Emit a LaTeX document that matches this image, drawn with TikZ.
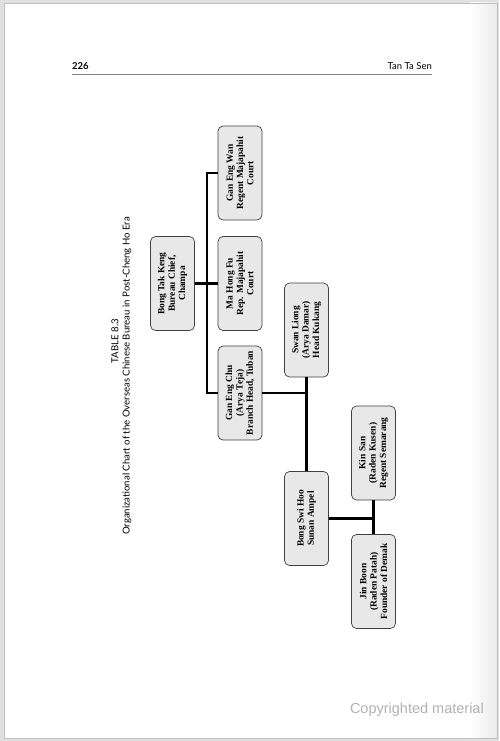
\documentclass[tikz,border=0pt]{standalone}
\usepackage{fontspec}
\setmainfont{Liberation Serif}
\newfontfamily\headfont{Lato}
\newfontfamily\wmfont{Liberation Sans}
\begin{document}
\begin{tikzpicture}[x=1pt,y=-1pt,
  box/.style={draw=black!75, fill=black!9, rounded corners=5pt, line width=0.7pt,
    rotate=90, minimum width=94pt, minimum height=44pt, align=center, inner sep=1pt,
    font=\bfseries\fontsize{9.4}{10.3}\selectfont},
  link/.style={line width=2.2pt, black},
  headtxt/.style={inner sep=0pt, font=\headfont\fontsize{9.5}{10}\selectfont},
  titletxt/.style={rotate=90, inner sep=0pt, font=\headfont\fontsize{9.6}{11}\selectfont}]
\useasboundingbox (0,0) rectangle (499,741);
\fill[black!12] (0,0) rectangle (499,741);
\fill[white] (4,3) rectangle (497,738);
\shade[left color=white,right color=black!8] (470,3) rectangle (497,738);
\draw[black!25, line width=0.8pt] (4,3) rectangle (497,738);

% header
\node[headtxt, anchor=base west] (pg) at (72,70) {\bfseries 226};
\node[headtxt, anchor=base east] (au) at (432,70) {Tan Ta Sen};
\draw[black!50, line width=0.6pt] (72,74) -- (432,74);

% title
\node[titletxt] (tno) at (115,341) {TABLE 8.3};
\node[titletxt] (ttl) at (127,376) {Organizational Chart of the Overseas Chinese Bureau in Post-Cheng Ho Era};

% boxes
\node[box] (b1) at (172.5,283.5) {Bong Tak Keng\\Bureau Chief,\\Champa};
\node[box] (b2) at (240,173) {Gan Eng Wan\\Regent Majapahit\\Court};
\node[box] (b3) at (240,283.5) {Ma Hong Fu\\Rep. Majapahit\\Court};
\node[box] (b4) at (240,393) {Gan Eng Chu\\(Arya Teja)\\Branch Head, Tuban};
\node[box] (b5) at (306.5,330) {Swan Liong\\(Arya Damar)\\Head Kukang};
\node[box] (b6) at (306.5,518.5) {Bong Swi Hoo\\Sunan Ampel};
\node[box] (b7) at (373.5,453) {Kin San\\(Raden Kusen)\\Regent Semarang};
\node[box] (b8) at (373.5,581.5) {Jin Boon\\(Raden Patah)\\Founder of Demak};

% connectors
\coordinate (t1) at (207,173);
\coordinate (t2) at (207,393);
\draw[link] (t1) -- (b2.north);
\draw[link, line cap=rect] (t1) -- (t2);
\draw[link] (t2) -- (b4.north);
\draw[link] (b1.south) -- (b3.north);
\draw[link] (b4.south) -- (b4.south -| b5.center);
\draw[link] (b5.west) -- (b6.east);
\draw[link] (b6.south) -- (b6.south -| b7.center);
\draw[link] (b7.west) -- (b8.east);

% watermark
\node[anchor=base east, inner sep=0pt, text=black!30, font=\wmfont\fontsize{14.5}{16}\selectfont] (wm) at (484,713) {Copyrighted material};
\end{tikzpicture}
\end{document}
